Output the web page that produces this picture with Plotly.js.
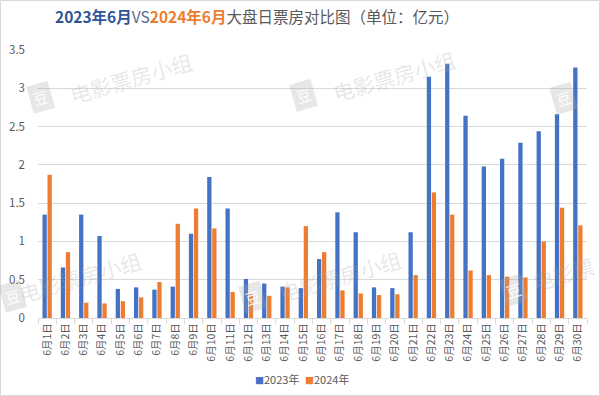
<!DOCTYPE html>
<html><head><meta charset="utf-8">
<script src="https://cdn.plot.ly/plotly-3.0.1.min.js"></script>
<style>html,body{margin:0;padding:0;background:#fff;}#c{width:600px;height:396px;}</style>
</head><body><div id="c"></div>
<script>
const days = ["6月1日","6月2日","6月3日","6月4日","6月5日","6月6日","6月7日","6月8日","6月9日","6月10日","6月11日","6月12日","6月13日","6月14日","6月15日","6月16日","6月17日","6月18日","6月19日","6月20日","6月21日","6月22日","6月23日","6月24日","6月25日","6月26日","6月27日","6月28日","6月29日","6月30日"];
const box2023 = [1.35,0.66,1.35,1.07,0.38,0.40,0.37,0.41,1.10,1.84,1.43,0.51,0.45,0.41,0.39,0.77,1.38,1.12,0.40,0.39,1.12,3.15,3.32,2.64,1.98,2.08,2.29,2.44,2.66,3.27];
const box2024 = [1.87,0.86,0.20,0.19,0.22,0.27,0.47,1.23,1.43,1.17,0.34,0.31,0.29,0.40,1.20,0.86,0.36,0.32,0.30,0.31,0.56,1.64,1.35,0.62,0.56,0.54,0.53,1.00,1.44,1.21];
const seriesNames = ["2023年","2024年"];
const seriesColors = ["#4472C4","#ED7D31"];
const yTicks = [0,0.5,1,1.5,2,2.5,3,3.5];
const yTickText = ["0","0.5","1","1.5","2","2.5","3","3.5"];
const watermarkText = "电影票房小组";

const font = "'Noto Sans CJK SC','Noto Sans',sans-serif";
const traces = [
  {type:"bar", name:seriesNames[0], x:days, y:box2023, marker:{color:seriesColors[0]}, showlegend:false},
  {type:"bar", name:seriesNames[1], x:days, y:box2024, marker:{color:seriesColors[1]}, showlegend:false}
];

const L=38, R=13, T=50, B=78, W=600, H=396;
const pw=W-L-R, ph=H-T-B;
const px=x=>(x-L)/pw, py=y=>(H-B-y)/ph;
const wmAngle=-16;
const base={xref:"paper",yref:"paper",showarrow:false,xanchor:"center",yanchor:"middle"};
function wm(cx,cy,txt){return Object.assign({text:txt||watermarkText,x:px(cx),y:py(cy),textangle:wmAngle,font:{size:21,color:"rgba(170,170,170,0.28)",family:font}},base);}
function icon(cx,cy){return Object.assign({text:"豆",x:px(cx),y:py(cy),textangle:wmAngle,bgcolor:"rgba(170,170,170,0.28)",borderpad:3,font:{size:15,color:"rgba(255,255,255,0.9)",family:font}},base);}

const annotations=[
  icon(40,97), wm(131,78),
  icon(303,95), wm(394,76),
  icon(563,98),
  icon(12,296), wm(80,277),
  icon(252,297), wm(340,276),
  icon(513,290), wm(563,274,"电影票"),
  Object.assign({text:"<span style='color:"+seriesColors[0]+";font-size:9px'>■</span>"+seriesNames[0], x:px(277), y:py(379), font:{size:11,color:"#595959",family:font}},base),
  Object.assign({text:"<span style='color:"+seriesColors[1]+";font-size:9px'>■</span>"+seriesNames[1], x:px(327), y:py(379), font:{size:11,color:"#595959",family:font}},base)
];

const layout = {
  width:W, height:H,
  margin:{l:L,r:R,t:T,b:B},
  paper_bgcolor:"#fff", plot_bgcolor:"rgba(0,0,0,0)",
  showlegend:false,
  title:{text:"<b><span style='color:#2F5597'>2023年6月</span></b><span style='color:#5B6B8C'>VS</span><b><span style='color:#ED7D31'>2024年6月</span></b><span style='color:#595959'>大盘日票房对比图（单位：亿元）</span>", xref:"container", x:257/600, xanchor:"center", y:1-18/396, yanchor:"middle", font:{family:font,size:15.5,color:"#595959"}},
  barmode:"group", bargap:0.45, bargroupgap:0.15,
  xaxis:{type:"category", automargin:false, tickangle:-90, tickfont:{family:font,size:10.5,color:"#595959"}, showgrid:false, showline:true, linecolor:"#D9D9D9", ticks:"outside", tickson:"boundaries", ticklen:5, tickcolor:"#D9D9D9"},
  yaxis:{range:[0,3.5], automargin:false, tickvals:yTicks, ticktext:yTickText, tickfont:{family:font,size:11.5,color:"#595959"}, gridcolor:"#D9D9D9", zeroline:false, showline:false, ticks:"", ticklabelstandoff:12},
  shapes:[{type:"rect",xref:"paper",yref:"paper",x0:px(0.5),x1:px(599.5),y0:py(395.5),y1:py(0.5),line:{color:"#D9D9D9",width:1}}],
  annotations:annotations
};
Plotly.newPlot("c", traces, layout, {displayModeBar:false, staticPlot:true});
</script></body></html>
